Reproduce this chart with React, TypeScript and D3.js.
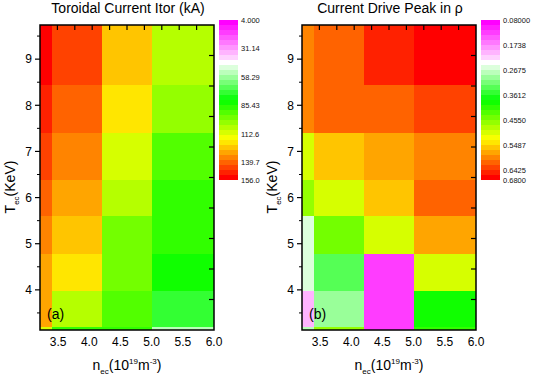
import React from "react";
import * as d3 from "d3";

// cell edges (data space) shared by both maps
const nEdges = [3.21, 3.4, 4.2, 5.0, 6.0];
const teEdges = [9.74, 8.44, 7.4, 6.39, 5.59, 4.78, 3.98, 3.2, 3.13]; // top -> bottom

// Toroidal current Itor (kA), rows top -> bottom, cols by nEdges
const itorValues = [
  [156, 144.6, 124, 105.4],
  [149.6, 140.2, 118, 99],
  [143, 135.2, 113, 92.6],
  [139.6, 130.6, 105.4, 87.6],
  [133, 125.6, 97.8, 87.6],
  [130.7, 118, 95.2, 80],
  [131.4, 105.4, 92.6, 75],
  [110, 87.6, 87.6, 55.5]
];
const itorRange = [4.0, 156.0];
const itorLabels = ["4.000", "31.14", "58.29", "85.43", "112.6", "139.7", "156.0"];

// current drive peak position rho
const rhoValues = [
  [0.605, 0.618, 0.66, 0.68],
  [0.59, 0.615, 0.622, 0.64],
  [0.5, 0.55, 0.585, 0.595],
  [0.47, 0.51, 0.558, 0.607],
  [0.264, 0.44, 0.51, 0.577],
  [0.264, 0.326, 0.122, 0.51],
  [0.196, 0.302, 0.122, 0.398],
  [0.283, 0.47, 0.122, 0.41]
];
const rhoRange = [0.08, 0.68];
const rhoLabels = ["0.08000", "0.1738", "0.2675", "0.3612", "0.4550", "0.5487", "0.6425", "0.6800"];

const xTicks = [3.5, 4.0, 4.5, 5.0, 5.5, 6.0];
const yTicks = [4, 5, 6, 7, 8, 9];
const yMinor = [3.5, 4.5, 5.5, 6.5, 7.5, 8.5, 9.5];

const FONT = "'Liberation Sans', Arial, sans-serif";
const NBANDS = 32;

// magenta -> white -> green -> yellow -> red
const cmap = d3
  .scaleLinear<string>()
  .domain([0, 0.245, 0.25, 0.281, 0.2812, 0.5, 0.75, 1])
  .range(["#ff00ff", "#ffe4ff", "#ffffff", "#ffffff", "#e6ffe6", "#00ff00", "#ffff00", "#ff0000"])
  .interpolate(d3.interpolateRgb)
  .clamp(true);

// discrete levels, end bands hit the pure end colours
const bandColor = (t: number) => {
  const k = Math.max(0, Math.min(NBANDS - 1, Math.floor(t * NBANDS)));
  return cmap(k / (NBANDS - 1));
};

type PanelProps = {
  x0: number;
  title: string;
  values: number[][];
  range: number[];
  labels: string[];
  tag: string;
};

const Panel = ({ x0, title, values, range, labels, tag }: PanelProps) => {
  const x1 = x0 + 174;
  const top = 25;
  const bottom = 330;
  const xScale = d3.scaleLinear().domain([3.21, 6.0]).range([x0, x1]);
  const yScale = d3.scaleLinear().domain([3.13, 9.74]).range([bottom, top]);
  // opposite axes run 0..10 on their own
  const topScale = d3.scaleLinear().domain([0, 10]).range([x0, x1]);
  const rightScale = d3.scaleLinear().domain([0, 10]).range([bottom, top]);
  const norm = d3.scaleLinear().domain(range).range([0, 1]);

  const cbX = x1 + 5;
  const cbTop = 20;
  const cbBottom = 180;
  const cbScale = d3.scaleLinear().domain(range).range([cbTop, cbBottom]);
  const bandH = (cbBottom - cbTop) / NBANDS;

  const cx = (x0 + x1) / 2;
  const cy = 187;

  return (
    <g fontFamily={FONT}>
      <text x={cx + 1} y={13} fontSize={14} textAnchor="middle">
        {title}
      </text>
      {values.map((row, j) =>
        row.map((v, i) => (
          <rect
            key={`${j}-${i}`}
            x={xScale(nEdges[i])}
            y={yScale(teEdges[j])}
            width={xScale(nEdges[i + 1]) - xScale(nEdges[i])}
            height={yScale(teEdges[j + 1]) - yScale(teEdges[j])}
            fill={bandColor(norm(v))}
            shapeRendering="crispEdges"
          />
        ))
      )}
      <rect x={x0} y={top} width={x1 - x0} height={bottom - top} fill="none" stroke="#000" strokeWidth={1.5} />
      {yTicks.map(t => (
        <g key={t}>
          <line x1={x0 - 5} x2={x0} y1={yScale(t)} y2={yScale(t)} stroke="#000" strokeWidth={1.2} />
          <text x={x0 - 8} y={yScale(t)} dy="0.36em" fontSize={12} textAnchor="end">
            {t}
          </text>
        </g>
      ))}
      {yMinor.map(t => (
        <line key={t} x1={x0 - 3} x2={x0} y1={yScale(t)} y2={yScale(t)} stroke="#000" strokeWidth={1} />
      ))}
      {d3.range(1, 10).map(t => (
        <g key={t}>
          <line x1={topScale(t)} x2={topScale(t)} y1={top} y2={top + 5} stroke="#000" strokeWidth={1.2} />
          <line x1={x1 - 5} x2={x1} y1={rightScale(t)} y2={rightScale(t)} stroke="#000" strokeWidth={1.2} />
        </g>
      ))}
      {xTicks.map(t => (
        <text key={t} x={xScale(t)} y={346} fontSize={12} textAnchor="middle">
          {t.toFixed(1)}
        </text>
      ))}
      <text x={x0 + 7} y={319} fontSize={14}>
        {tag}
      </text>
      <text x={cx} y={370} fontSize={14} textAnchor="middle">
        n<tspan fontSize={8} dy={4}>ec</tspan>
        <tspan dy={-4}>(10</tspan>
        <tspan fontSize={8} dy={-6}>19</tspan>
        <tspan dy={6}>m</tspan>
        <tspan fontSize={8} dy={-6}>-3</tspan>
        <tspan dy={6}>)</tspan>
      </text>
      <text transform={`translate(${x0 - 25},${cy}) rotate(-90)`} fontSize={14} textAnchor="middle">
        T<tspan fontSize={8} dy={4}>ec</tspan>
        <tspan dy={-4}>(KeV)</tspan>
      </text>
      {d3.range(NBANDS).map(k => (
        <rect
          key={k}
          x={cbX}
          y={cbTop + k * bandH}
          width={19}
          height={bandH + 0.3}
          fill={cmap(k / (NBANDS - 1))}
          shapeRendering="crispEdges"
        />
      ))}
      {labels.map(l => (
        <text key={l} x={cbX + 22} y={cbScale(+l)} dy="0.35em" fontSize={7.5} fill="#111">
          {l}
        </text>
      ))}
    </g>
  );
};

export default function App() {
  return (
    <svg width={533} height={378} style={{ position: "absolute", left: 0, top: 0, background: "#fff" }}>
      <Panel
        x0={40}
        title="Toroidal Current Itor (kA)"
        values={itorValues}
        range={itorRange}
        labels={itorLabels}
        tag="(a)"
      />
      <Panel
        x0={302}
        title="Current Drive Peak in ρ"
        values={rhoValues}
        range={rhoRange}
        labels={rhoLabels}
        tag="(b)"
      />
    </svg>
  );
}
